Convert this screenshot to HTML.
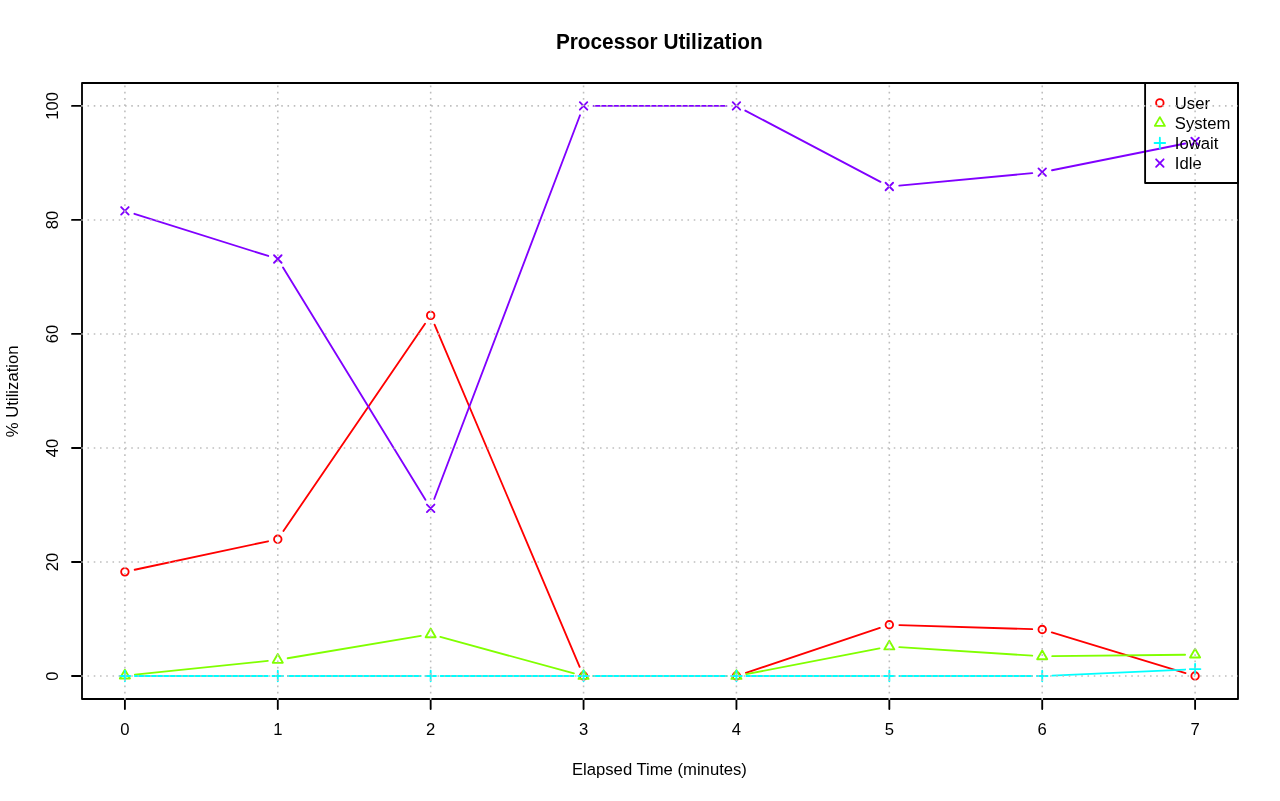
<!DOCTYPE html><html><head><meta charset="utf-8"><title>Processor Utilization</title><style>
html,body{margin:0;padding:0;background:#fff;width:1280px;height:801px;overflow:hidden}
svg{display:block}
text{font-family:'Liberation Sans',Arial,Helvetica,sans-serif;fill:#000}
</style></head><body>
<svg width="1280" height="801" viewBox="0 0 1280 801">
<rect width="1280" height="801" fill="#fff"/>
<g stroke="#FF0000" stroke-width="1.85" stroke-linecap="round" stroke-linejoin="round" fill="none">
<path d="M134.68 569.76L268.01 541.29M283.43 530.94L425.03 323.66M434.58 324.61L579.65 666.79M593.56 676L726.44 676M745.93 672.82L879.85 627.93M899.33 625.06L1032.22 629.19M1051.78 632.41L1185.53 673.09"/>
<circle cx="124.9" cy="571.85" r="3.75" fill="none" stroke="#FF0000"/>
<circle cx="277.79" cy="539.2" r="3.75" fill="none" stroke="#FF0000"/>
<circle cx="430.67" cy="315.4" r="3.75" fill="none" stroke="#FF0000"/>
<circle cx="583.56" cy="676" r="3.75" fill="none" stroke="#FF0000"/>
<circle cx="736.44" cy="676" r="3.75" fill="none" stroke="#FF0000"/>
<circle cx="889.33" cy="624.75" r="3.75" fill="none" stroke="#FF0000"/>
<circle cx="1042.22" cy="629.5" r="3.75" fill="none" stroke="#FF0000"/>
<circle cx="1195.1" cy="676" r="3.75" fill="none" stroke="#FF0000"/>
</g>
<g stroke="#80FF00" stroke-width="1.85" stroke-linecap="round" stroke-linejoin="round" fill="none">
<path d="M134.85 674.58L267.84 660.92M287.65 658.25L420.81 635.95M440.32 636.93L573.91 673.37M593.56 676L726.44 676M746.26 674.11L879.51 648.39M899.31 647.14L1032.24 655.66M1052.22 656.19L1185.1 654.71"/>
<polygon points="124.9,669.77 129.95,678.52 119.85,678.52" fill="none" stroke="#80FF00"/>
<polygon points="277.79,654.07 282.84,662.82 272.74,662.82" fill="none" stroke="#80FF00"/>
<polygon points="430.67,628.47 435.72,637.22 425.62,637.22" fill="none" stroke="#80FF00"/>
<polygon points="583.56,670.17 588.61,678.92 578.51,678.92" fill="none" stroke="#80FF00"/>
<polygon points="736.44,670.17 741.49,678.92 731.39,678.92" fill="none" stroke="#80FF00"/>
<polygon points="889.33,640.67 894.38,649.42 884.28,649.42" fill="none" stroke="#80FF00"/>
<polygon points="1042.22,650.47 1047.27,659.22 1037.17,659.22" fill="none" stroke="#80FF00"/>
<polygon points="1195.1,648.77 1200.15,657.52 1190.05,657.52" fill="none" stroke="#80FF00"/>
</g>
<g stroke="#00FFFF" stroke-width="1.85" stroke-linecap="round" stroke-linejoin="round" fill="none">
<path d="M134.9 676L267.79 676M287.79 676L420.67 676M440.67 676L573.56 676M593.56 676L726.44 676M746.44 676L879.33 676M899.33 676L1032.22 676M1052.21 675.55L1185.11 669.55"/>
<path d="M119.6 676H130.2M124.9 670.7V681.3" stroke="#00FFFF"/>
<path d="M272.48 676H283.09M277.79 670.7V681.3" stroke="#00FFFF"/>
<path d="M425.37 676H435.98M430.67 670.7V681.3" stroke="#00FFFF"/>
<path d="M578.25 676H588.86M583.56 670.7V681.3" stroke="#00FFFF"/>
<path d="M731.14 676H741.75M736.44 670.7V681.3" stroke="#00FFFF"/>
<path d="M884.03 676H894.63M889.33 670.7V681.3" stroke="#00FFFF"/>
<path d="M1036.91 676H1047.52M1042.22 670.7V681.3" stroke="#00FFFF"/>
<path d="M1189.8 669.1H1200.41M1195.1 663.8V674.4" stroke="#00FFFF"/>
</g>
<g stroke="#8000FF" stroke-width="1.85" stroke-linecap="round" stroke-linejoin="round" fill="none">
<path d="M134.44 213.81L268.25 255.99M283.01 267.53L425.44 499.82M434.22 499L580.01 115.25M593.56 105.9L726.44 105.9M745.29 110.56L880.48 181.84M899.29 185.57L1032.26 173.13M1052.02 170.23L1185.3 143.47"/>
<path d="M121.15 207.05L128.65 214.55M121.15 214.55L128.65 207.05" stroke="#8000FF"/>
<path d="M274.04 255.25L281.54 262.75M274.04 262.75L281.54 255.25" stroke="#8000FF"/>
<path d="M426.92 504.6L434.42 512.1M426.92 512.1L434.42 504.6" stroke="#8000FF"/>
<path d="M579.81 102.15L587.31 109.65M579.81 109.65L587.31 102.15" stroke="#8000FF"/>
<path d="M732.69 102.15L740.19 109.65M732.69 109.65L740.19 102.15" stroke="#8000FF"/>
<path d="M885.58 182.75L893.08 190.25M885.58 190.25L893.08 182.75" stroke="#8000FF"/>
<path d="M1038.47 168.45L1045.97 175.95M1038.47 175.95L1045.97 168.45" stroke="#8000FF"/>
<path d="M1191.35 137.75L1198.85 145.25M1191.35 145.25L1198.85 137.75" stroke="#8000FF"/>
</g>
<g stroke="#000" stroke-width="1.85" stroke-linecap="round" stroke-linejoin="round" fill="none">
<rect x="82.0" y="83.0" width="1156" height="616"/>
<path d="M124.9 699.0V709M277.79 699.0V709M430.67 699.0V709M583.56 699.0V709M736.44 699.0V709M889.33 699.0V709M1042.22 699.0V709M1195.1 699.0V709M82.0 676H72M82.0 561.98H72M82.0 447.96H72M82.0 333.94H72M82.0 219.92H72M82.0 105.9H72"/>
</g>
<text x="124.9" y="734.6" font-size="16.67" text-anchor="middle">0</text>
<text x="277.79" y="734.6" font-size="16.67" text-anchor="middle">1</text>
<text x="430.67" y="734.6" font-size="16.67" text-anchor="middle">2</text>
<text x="583.56" y="734.6" font-size="16.67" text-anchor="middle">3</text>
<text x="736.44" y="734.6" font-size="16.67" text-anchor="middle">4</text>
<text x="889.33" y="734.6" font-size="16.67" text-anchor="middle">5</text>
<text x="1042.22" y="734.6" font-size="16.67" text-anchor="middle">6</text>
<text x="1195.1" y="734.6" font-size="16.67" text-anchor="middle">7</text>
<text transform="translate(57.6 676) rotate(-90)" font-size="16.67" text-anchor="middle">0</text>
<text transform="translate(57.6 561.98) rotate(-90)" font-size="16.67" text-anchor="middle">20</text>
<text transform="translate(57.6 447.96) rotate(-90)" font-size="16.67" text-anchor="middle">40</text>
<text transform="translate(57.6 333.94) rotate(-90)" font-size="16.67" text-anchor="middle">60</text>
<text transform="translate(57.6 219.92) rotate(-90)" font-size="16.67" text-anchor="middle">80</text>
<text transform="translate(57.6 105.9) rotate(-90)" font-size="16.67" text-anchor="middle">100</text>
<text transform="translate(659.3 48.6) scale(1 1.03)" font-size="20.8" font-weight="bold" text-anchor="middle">Processor Utilization</text>
<text x="659.45" y="774.5" font-size="16.67" text-anchor="middle">Elapsed Time (minutes)</text>
<text transform="translate(17.6 391.3) rotate(-90)" font-size="16.67" text-anchor="middle">% Utilization</text>
<rect x="1145.1" y="83.0" width="92.9" height="100" fill="none" stroke="#000" stroke-width="1.85" stroke-linejoin="round"/>
<g stroke="#FF0000" stroke-width="1.85" stroke-linecap="round" stroke-linejoin="round" fill="none"><circle cx="1159.85" cy="102.9" r="3.75" fill="none" stroke="#FF0000"/></g>
<text x="1174.8" y="108.75" font-size="16.67">User</text>
<g stroke="#80FF00" stroke-width="1.85" stroke-linecap="round" stroke-linejoin="round" fill="none"><polygon points="1159.85,117.12 1164.9,125.87 1154.8,125.87" fill="none" stroke="#80FF00"/></g>
<text x="1174.8" y="128.8" font-size="16.67">System</text>
<g stroke="#00FFFF" stroke-width="1.85" stroke-linecap="round" stroke-linejoin="round" fill="none"><path d="M1154.55 143H1165.15M1159.85 137.7V148.3" stroke="#00FFFF"/></g>
<text x="1174.8" y="148.85" font-size="16.67">Iowait</text>
<g stroke="#8000FF" stroke-width="1.85" stroke-linecap="round" stroke-linejoin="round" fill="none"><path d="M1156.1 159.3L1163.6 166.8M1156.1 166.8L1163.6 159.3" stroke="#8000FF"/></g>
<text x="1174.8" y="168.9" font-size="16.67">Idle</text>
<path d="M124.9 699.63V83.0M277.79 699.63V83.0M430.67 699.63V83.0M583.56 699.63V83.0M736.44 699.63V83.0M889.33 699.63V83.0M1042.22 699.63V83.0M1195.1 699.63V83.0M81.25 676H1238.0M81.25 561.98H1238.0M81.25 447.96H1238.0M81.25 333.94H1238.0M81.25 219.92H1238.0M81.25 105.9H1238.0" stroke="#BEBEBE" stroke-width="1.5625" stroke-dasharray="1.5625 4.6875" stroke-linecap="butt" fill="none"/>
</svg></body></html>
